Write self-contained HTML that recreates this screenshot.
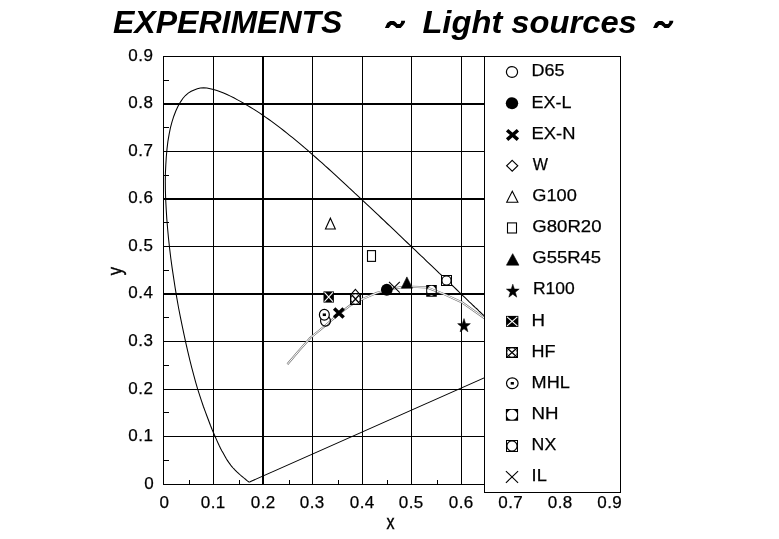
<!DOCTYPE html>
<html><head><meta charset="utf-8"><title>Experiments - Light sources</title>
<style>html,body{margin:0;padding:0;background:#fff}body{width:779px;height:539px;overflow:hidden}svg{display:block;will-change:transform}text{font-family:"Liberation Sans",sans-serif;fill:#000}</style></head><body>
<svg width="779" height="539" viewBox="0 0 779 539">
<rect width="779" height="539" fill="#fff"/>
<g font-size="32" font-weight="bold" font-style="italic">
<text x="113" y="33">EXPERIMENTS</text>
<polygon points="384.9,28.0 387.2,23.0 390.1,20.9 394.0,20.9 395.8,22.2 397.3,23.9 399.9,23.9 401.0,22.5 401.2,20.8 405.1,20.8 404.9,22.5 403.3,25.1 400.7,28.0 396.3,28.0 395.0,26.6 392.9,25.1 391.1,25.1 388.8,28.0" fill="#000"/>
<text x="422.4" y="33" textLength="214.4" lengthAdjust="spacingAndGlyphs">Light sources</text>
<polygon points="653.1,28.0 655.4,23.0 658.3,20.9 662.2,20.9 664.0,22.2 665.5,23.9 668.1,23.9 669.2,22.5 669.4,20.8 673.3,20.8 673.1,22.5 671.5,25.1 668.9,28.0 664.5,28.0 663.2,26.6 661.1,25.1 659.3,25.1 657.0,28.0" fill="#000"/>
</g>
<g stroke="#000" shape-rendering="crispEdges" fill="none">
<line x1="163.5" y1="56" x2="163.5" y2="485" stroke-width="1"/>
<line x1="213.5" y1="56" x2="213.5" y2="485" stroke-width="1"/>
<line x1="263.0" y1="56" x2="263.0" y2="485" stroke-width="2"/>
<line x1="312.5" y1="56" x2="312.5" y2="485" stroke-width="1"/>
<line x1="362.5" y1="56" x2="362.5" y2="485" stroke-width="1"/>
<line x1="411.5" y1="56" x2="411.5" y2="485" stroke-width="1"/>
<line x1="461.5" y1="56" x2="461.5" y2="485" stroke-width="1"/>
<line x1="163" y1="484.5" x2="486" y2="484.5" stroke-width="1"/>
<line x1="163" y1="436.5" x2="486" y2="436.5" stroke-width="1"/>
<line x1="163" y1="389.5" x2="486" y2="389.5" stroke-width="1"/>
<line x1="163" y1="341.5" x2="486" y2="341.5" stroke-width="1"/>
<line x1="163" y1="294" x2="486" y2="294" stroke-width="2"/>
<line x1="163" y1="246.5" x2="486" y2="246.5" stroke-width="1"/>
<line x1="163" y1="199" x2="486" y2="199" stroke-width="2"/>
<line x1="163" y1="151.5" x2="486" y2="151.5" stroke-width="1"/>
<line x1="163" y1="104" x2="486" y2="104" stroke-width="2"/>
<line x1="163" y1="56.5" x2="486" y2="56.5" stroke-width="1"/>
<line x1="163" y1="460.5" x2="169" y2="460.5" stroke-width="1"/>
<line x1="163" y1="412.5" x2="169" y2="412.5" stroke-width="1"/>
<line x1="163" y1="365.5" x2="169" y2="365.5" stroke-width="1"/>
<line x1="163" y1="317.5" x2="169" y2="317.5" stroke-width="1"/>
<line x1="163" y1="270.5" x2="169" y2="270.5" stroke-width="1"/>
<line x1="163" y1="222.5" x2="169" y2="222.5" stroke-width="1"/>
<line x1="163" y1="175.5" x2="169" y2="175.5" stroke-width="1"/>
<line x1="163" y1="127.5" x2="169" y2="127.5" stroke-width="1"/>
<line x1="163" y1="80.5" x2="169" y2="80.5" stroke-width="1"/>
<line x1="189.5" y1="480" x2="189.5" y2="485" stroke-width="1"/>
<line x1="239.5" y1="480" x2="239.5" y2="485" stroke-width="1"/>
<line x1="289.5" y1="480" x2="289.5" y2="485" stroke-width="1"/>
<line x1="338.5" y1="480" x2="338.5" y2="485" stroke-width="1"/>
<line x1="387.5" y1="480" x2="387.5" y2="485" stroke-width="1"/>
<line x1="437.5" y1="480" x2="437.5" y2="485" stroke-width="1"/>
</g>
<clipPath id="c"><rect x="163" y="56" width="322" height="430"/></clipPath>
<g clip-path="url(#c)" fill="none">
<path d="M287.4,364.3 L299.0,350.6 L310.4,337.8 L324.6,326.2 L338.0,314.6 L350.5,305.2 L362.8,298.9 L377.0,292.8 L390.0,289.2 L400.0,287.4 L412.3,286.8 L426.8,287.4 L442.4,293.4 L461.7,302.2 L484.0,317.8 L490.0,322.0" stroke="#7a7a7a" stroke-width="2.1" stroke-linejoin="round"/>
<path d="M287.4,364.3 L299.0,350.6 L310.4,337.8 L324.6,326.2 L338.0,314.6 L350.5,305.2 L362.8,298.9 L377.0,292.8 L390.0,289.2 L400.0,287.4 L412.3,286.8 L426.8,287.4 L442.4,293.4 L461.7,302.2 L484.0,317.8 L490.0,322.0" stroke="#fff" stroke-width="1.0" stroke-linejoin="round"/>
<path d="M250.0,481.8 L250.0,481.8 L249.9,481.9 L249.9,481.9 L249.8,481.9 L249.7,481.9 L249.6,481.9 L249.6,481.9 L249.5,481.9 L249.5,481.9 L249.4,481.9 L249.4,481.9 L249.3,481.9 L249.2,481.9 L249.1,481.9 L249.0,481.9 L248.9,481.9 L248.8,481.8 L248.7,481.8 L248.5,481.7 L248.4,481.6 L248.2,481.5 L248.0,481.3 L247.7,481.1 L247.4,480.9 L247.1,480.7 L246.7,480.3 L246.3,480.0 L245.9,479.7 L245.6,479.3 L245.2,479.0 L244.9,478.8 L244.6,478.5 L244.4,478.3 L244.1,478.1 L243.9,477.9 L243.6,477.6 L243.2,477.4 L242.9,477.1 L242.5,476.8 L242.1,476.5 L241.7,476.1 L241.3,475.8 L240.9,475.4 L240.5,475.1 L240.0,474.7 L239.5,474.3 L239.1,473.9 L238.5,473.4 L238.0,472.9 L237.5,472.4 L236.9,471.9 L236.3,471.3 L235.7,470.7 L235.1,470.1 L234.4,469.4 L233.8,468.7 L233.1,468.0 L232.4,467.2 L231.6,466.3 L230.8,465.2 L230.0,464.1 L229.1,462.9 L228.2,461.6 L227.2,460.1 L226.2,458.5 L225.2,456.7 L224.1,454.8 L223.0,452.8 L221.8,450.7 L220.6,448.4 L219.3,445.8 L218.0,443.0 L216.6,439.9 L215.2,436.7 L213.7,433.2 L212.1,429.5 L210.5,425.5 L208.9,421.2 L207.1,416.5 L205.3,411.6 L203.4,406.5 L201.5,400.9 L199.6,395.1 L197.6,388.9 L195.7,382.3 L193.8,375.3 L191.8,367.9 L189.9,360.3 L188.0,352.3 L186.1,344.1 L184.2,335.4 L182.3,326.4 L180.4,317.1 L178.5,307.5 L176.8,297.8 L175.2,288.2 L173.7,278.4 L172.2,268.4 L170.8,258.3 L169.6,248.2 L168.5,238.2 L167.6,228.5 L166.8,218.9 L166.2,209.3 L165.7,199.9 L165.4,190.7 L165.3,181.8 L165.4,173.2 L165.8,164.9 L166.3,156.7 L167.0,148.9 L167.9,141.4 L169.1,134.4 L170.4,127.9 L172.0,121.8 L173.8,116.2 L175.8,111.0 L178.0,106.3 L180.4,102.1 L182.8,98.5 L185.4,95.5 L188.2,93.1 L191.2,91.3 L194.2,89.9 L197.3,88.8 L200.4,88.1 L203.6,87.9 L206.9,88.1 L210.2,88.7 L213.5,89.6 L216.9,90.6 L220.3,91.8 L223.6,93.0 L227.0,94.5 L230.4,96.1 L233.8,97.8 L237.1,99.6 L240.4,101.4 L243.6,103.2 L246.8,105.1 L250.0,107.0 L253.1,108.9 L256.3,110.9 L259.4,112.9 L262.5,115.0 L265.5,117.1 L268.6,119.3 L271.6,121.4 L274.6,123.7 L277.6,125.9 L280.6,128.2 L283.6,130.5 L286.6,132.9 L289.6,135.3 L292.6,137.7 L295.6,140.2 L298.6,142.6 L301.6,145.1 L304.5,147.7 L307.5,150.2 L310.4,152.8 L313.4,155.4 L316.4,158.0 L319.3,160.6 L322.3,163.2 L325.2,165.9 L328.2,168.5 L331.1,171.2 L334.1,173.9 L337.1,176.6 L340.0,179.3 L343.0,182.1 L346.0,184.8 L348.9,187.6 L351.9,190.3 L354.8,193.1 L357.8,195.8 L360.7,198.6 L363.7,201.4 L366.6,204.1 L369.6,206.9 L372.5,209.7 L375.4,212.4 L378.4,215.2 L381.3,218.0 L384.2,220.7 L387.1,223.5 L390.0,226.2 L392.9,228.9 L395.8,231.7 L398.6,234.4 L401.5,237.1 L404.3,239.8 L407.1,242.5 L409.9,245.2 L412.7,247.8 L415.5,250.4 L418.2,253.1 L420.9,255.7 L423.7,258.2 L426.3,260.8 L429.0,263.4 L431.7,265.9 L434.3,268.4 L436.9,270.8 L439.4,273.3 L442.0,275.7 L444.5,278.0 L446.9,280.4 L449.4,282.7 L451.8,285.0 L454.1,287.2 L456.5,289.5 L458.7,291.7 L461.0,293.8 L463.1,295.9 L465.3,297.9 L467.3,299.8 L469.3,301.8 L471.3,303.6 L473.2,305.5 L475.1,307.3 L477.0,309.0 L478.8,310.8 L480.6,312.5 L482.3,314.1 L484.0,315.7 L485.7,317.3 L487.2,318.8 L488.8,320.2 L490.2,321.6 L491.7,323.0 L493.1,324.3 L494.4,325.5 L495.7,326.8 L496.9,328.0 L498.1,329.1 L499.3,330.2 L500.4,331.3 L501.5,332.3 L502.5,333.3 L503.4,334.2 L504.3,335.0 L505.2,335.8 L506.1,336.7 L507.2,337.8 L508.4,338.9 L509.7,340.1 L511.0,341.4 L512.5,342.8 L513.9,344.1 L515.3,345.5 L516.8,346.9 L518.4,348.5 L520.1,350.0 L521.6,351.5 L523.1,352.9 L524.3,354.0 L525.4,355.0 L526.3,355.9 L527.0,356.7 L527.7,357.3 L528.2,357.8 L528.6,358.2" stroke="#000" stroke-width="1.05"/>
<path d="M250.0,481.8 L528.6,358.2" stroke="#000" stroke-width="1.05"/>
</g>
<g clip-path="url(#c)">
<ellipse cx="325.50" cy="320.85" rx="4.95" ry="5.35" fill="none" stroke="#000" stroke-width="1.2"/>
<ellipse cx="386.80" cy="289.80" rx="5.85" ry="5.95" fill="#000"/>
<path d="M334.15,308.45 L343.65,317.55 M343.65,308.45 L334.15,317.55" stroke="#000" stroke-width="3.5" fill="none"/>
<path d="M355.40,289.35 L360.35,295.00 L355.40,300.65 L350.45,295.00 Z" fill="#fff" stroke="#000" stroke-width="1.1"/>
<path d="M330.40,218.15 L335.35,229.05 L325.45,229.05 Z" fill="#fff" stroke="#000" stroke-width="1.1"/>
<rect x="367.50" y="250.62" width="8.00" height="10.75" fill="#fff" stroke="#000" stroke-width="1.1"/>
<path d="M406.90,276.90 L412.45,288.20 L401.35,288.20 Z" fill="#000" stroke="#000" stroke-width="0.6" stroke-linejoin="miter"/>
<polygon points="464.00,318.55 465.57,323.52 470.35,323.63 466.54,326.81 467.92,331.85 464.00,328.84 460.08,331.85 461.46,326.81 457.65,323.63 462.43,323.52" fill="#000" stroke="#000" stroke-width="0.5"/>
<rect x="323.50" y="291.39" width="10.40" height="11.21" fill="#000"/><path d="M324.50,292.39 L332.90,301.61 M332.90,292.39 L324.50,301.61" stroke="#fff" stroke-width="1.1" fill="none"/>
<rect x="350.50" y="293.50" width="10.00" height="11.00" fill="#fff" stroke="#000" stroke-width="1"/><ellipse cx="355.50" cy="299.00" rx="4.70" ry="5.20" fill="none" stroke="#000" stroke-width="0.9"/><path d="M350.50,293.50 L360.50,304.50 M360.50,293.50 L350.50,304.50" stroke="#000" stroke-width="1.25" fill="none"/>
<ellipse cx="324.35" cy="314.75" rx="4.95" ry="5.35" fill="#fff" stroke="#000" stroke-width="1.2"/><rect x="322.75" y="313.45" width="3.2" height="2.6" fill="#000"/>
<path d="M426.20,285.00 H436.80 V296.80 H426.20 Z M427.10,290.80 A4.40,5.00 0 1 0 435.90,290.80 A4.40,5.00 0 1 0 427.10,290.80 Z" fill="#000" fill-rule="evenodd"/>
<rect x="441.50" y="275.50" width="10.00" height="10.00" fill="#fff" stroke="#000" stroke-width="1"/><ellipse cx="446.50" cy="280.50" rx="4.60" ry="4.60" fill="none" stroke="#000" stroke-width="1.2"/>
<path d="M389.00,281.90 L399.80,292.70 M399.80,281.90 L389.00,292.70" stroke="#000" stroke-width="1.1" fill="none"/>
</g>
<rect x="484.5" y="56.5" width="136" height="436" fill="#fff" stroke="#000" stroke-width="1" shape-rendering="crispEdges"/>
<g font-size="17">
<ellipse cx="512.00" cy="72.00" rx="5.60" ry="5.40" fill="none" stroke="#000" stroke-width="1.2"/>
<text stroke="#000" stroke-width="0.25" x="531.6" y="76.3" textLength="33.0" lengthAdjust="spacingAndGlyphs">D65</text>
<ellipse cx="512.00" cy="103.15" rx="6.20" ry="6.00" fill="#000"/>
<text stroke="#000" stroke-width="0.25" x="531.6" y="107.5" textLength="39.9" lengthAdjust="spacingAndGlyphs">EX-L</text>
<path d="M507.10,130.20 L517.90,139.60 M517.90,130.20 L507.10,139.60" stroke="#000" stroke-width="3.5" fill="none"/>
<text stroke="#000" stroke-width="0.25" x="531.6" y="138.6" textLength="43.9" lengthAdjust="spacingAndGlyphs">EX-N</text>
<path d="M512.20,160.35 L517.80,165.75 L512.20,171.15 L506.60,165.75 Z" fill="#fff" stroke="#000" stroke-width="1.1"/>
<text stroke="#000" stroke-width="0.25" x="532.8" y="169.8" textLength="15.2" lengthAdjust="spacingAndGlyphs">W</text>
<path d="M512.30,191.20 L517.90,202.20 L506.70,202.20 Z" fill="#fff" stroke="#000" stroke-width="1.1"/>
<text stroke="#000" stroke-width="0.25" x="532.3" y="200.9" textLength="44.5" lengthAdjust="spacingAndGlyphs">G100</text>
<rect x="507.50" y="222.90" width="9.00" height="10.09" fill="#fff" stroke="#000" stroke-width="1.1"/>
<text stroke="#000" stroke-width="0.25" x="532.3" y="232.1" textLength="69.2" lengthAdjust="spacingAndGlyphs">G80R20</text>
<path d="M512.70,253.65 L518.95,265.15 L506.45,265.15 Z" fill="#000" stroke="#000" stroke-width="0.6" stroke-linejoin="miter"/>
<text stroke="#000" stroke-width="0.25" x="532.3" y="263.2" textLength="68.7" lengthAdjust="spacingAndGlyphs">G55R45</text>
<polygon points="512.80,284.15 514.38,289.01 519.20,289.12 515.36,292.22 516.76,297.15 512.80,294.21 508.84,297.15 510.24,292.22 506.40,289.12 511.22,289.01" fill="#000" stroke="#000" stroke-width="0.5"/>
<text stroke="#000" stroke-width="0.25" x="532.9" y="294.3" textLength="41.7" lengthAdjust="spacingAndGlyphs">R100</text>
<rect x="506.05" y="315.89" width="12.30" height="11.02" fill="#000"/><path d="M507.05,316.89 L517.35,325.91 M517.35,316.89 L507.05,325.91" stroke="#fff" stroke-width="1.1" fill="none"/>
<text stroke="#000" stroke-width="0.25" x="531.6" y="325.5" textLength="13.5" lengthAdjust="spacingAndGlyphs">H</text>
<rect x="506.50" y="347.50" width="11.00" height="10.00" fill="#fff" stroke="#000" stroke-width="1"/><ellipse cx="512.00" cy="352.50" rx="5.20" ry="4.70" fill="none" stroke="#000" stroke-width="0.9"/><path d="M506.50,347.50 L517.50,357.50 M517.50,347.50 L506.50,357.50" stroke="#000" stroke-width="1.25" fill="none"/>
<text stroke="#000" stroke-width="0.25" x="531.6" y="356.6" textLength="24.0" lengthAdjust="spacingAndGlyphs">HF</text>
<ellipse cx="512.30" cy="383.30" rx="5.80" ry="5.40" fill="#fff" stroke="#000" stroke-width="1.2"/><rect x="510.70" y="382.00" width="3.2" height="2.6" fill="#000"/>
<text stroke="#000" stroke-width="0.25" x="531.6" y="387.8" textLength="38.2" lengthAdjust="spacingAndGlyphs">MHL</text>
<path d="M505.90,409.05 H518.10 V420.85 H505.90 Z M506.80,414.85 A5.20,5.00 0 1 0 517.20,414.85 A5.20,5.00 0 1 0 506.80,414.85 Z" fill="#000" fill-rule="evenodd"/>
<text stroke="#000" stroke-width="0.25" x="531.6" y="418.9" textLength="27.0" lengthAdjust="spacingAndGlyphs">NH</text>
<rect x="506.50" y="440.50" width="11.00" height="11.00" fill="#fff" stroke="#000" stroke-width="1"/><ellipse cx="512.00" cy="446.00" rx="5.10" ry="5.10" fill="none" stroke="#000" stroke-width="1.2"/>
<text stroke="#000" stroke-width="0.25" x="531.6" y="450.1" textLength="24.6" lengthAdjust="spacingAndGlyphs">NX</text>
<path d="M505.90,471.05 L518.10,482.85 M518.10,471.05 L505.90,482.85" stroke="#000" stroke-width="1.1" fill="none"/>
<text stroke="#000" stroke-width="0.25" x="531.6" y="481.2" textLength="15.2" lengthAdjust="spacingAndGlyphs">IL</text>
</g>
<g font-size="17" text-anchor="end" letter-spacing="0.6" stroke="#000" stroke-width="0.25">
<text x="154.2" y="488.7">0</text>
<text x="153.6" y="440.7">0.1</text>
<text x="153.6" y="393.7">0.2</text>
<text x="153.6" y="345.7">0.3</text>
<text x="153.6" y="298.2">0.4</text>
<text x="153.6" y="250.7">0.5</text>
<text x="153.6" y="203.2">0.6</text>
<text x="153.6" y="155.7">0.7</text>
<text x="153.6" y="108.2">0.8</text>
<text x="153.6" y="60.7">0.9</text>
</g>
<g font-size="17" text-anchor="middle" letter-spacing="0.45" stroke="#000" stroke-width="0.25">
<text x="164.5" y="507.6">0</text>
<text x="213.3" y="507.6">0.1</text>
<text x="263.3" y="507.6">0.2</text>
<text x="312.3" y="507.6">0.3</text>
<text x="362.3" y="507.6">0.4</text>
<text x="411.3" y="507.6">0.5</text>
<text x="461.3" y="507.6">0.6</text>
<text x="510.8" y="507.6">0.7</text>
<text x="560.3" y="507.6">0.8</text>
<text x="609.8" y="507.6">0.9</text>
</g>
<text font-size="19.5" text-anchor="middle" transform="translate(390.5,529) scale(0.82,1)" stroke="#000" stroke-width="0.4">x</text>
<text font-size="19.5" text-anchor="middle" transform="translate(122,271) rotate(-90) scale(0.85,1)" stroke="#000" stroke-width="0.4">y</text>
</svg></body></html>
